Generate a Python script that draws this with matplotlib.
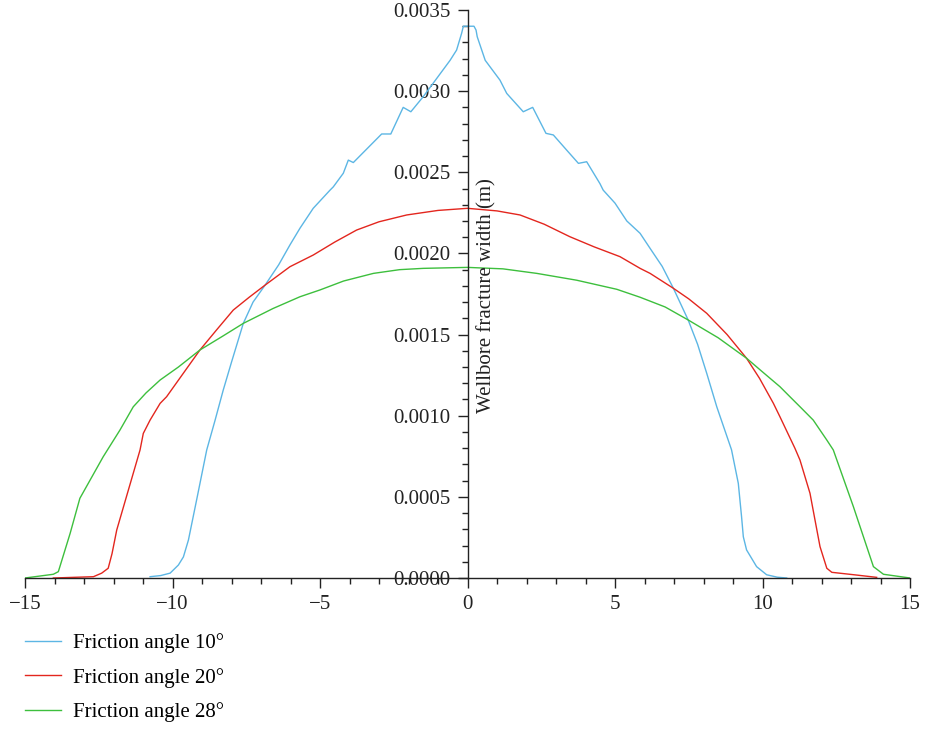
import numpy as np
import matplotlib
matplotlib.use('Agg')
import matplotlib.pyplot as plt
from matplotlib.ticker import MultipleLocator, FormatStrFormatter

plt.rcParams['font.family'] = 'serif'
plt.rcParams['font.serif'] = ['Liberation Serif', 'DejaVu Serif']

#----- curves (x in m along wellbore, width in m)
x10 = [-10.76, -10.4, -10.08, -9.8, -9.63, -9.46, -9.15, -8.84, -8.56, -8.28, -8.0, -7.6,
       -7.27, -6.86, -6.4, -6.02, -5.68, -5.23, -4.66, -4.55, -4.21, -4.04, -3.87, -2.91,
       -2.60, -2.18, -1.92, -1.5, -0.59, -0.37, -0.2, -0.14, 0.22, 0.29, 0.33, 0.6, 1.1,
       1.33, 1.89, 2.21, 2.66, 2.91, 3.36, 3.76, 4.04, 4.49, 4.6, 5.0, 5.4, 5.85, 6.19, 6.6,
       6.98, 7.48, 7.8, 8.11, 8.45, 8.95, 9.18, 9.29, 9.35, 9.46, 9.8, 10.14, 10.5, 10.82]
w10 = [0.000008, 0.000015, 0.00003, 0.00008, 0.00013, 0.000234, 0.00051, 0.000789, 0.00097,
       0.001158, 0.00133, 0.001569, 0.0017, 0.001805, 0.00193, 0.002052, 0.002155, 0.002278,
       0.00239, 0.00241, 0.002494, 0.002575, 0.00256, 0.002736, 0.002736, 0.0029, 0.002873,
       0.002966, 0.00319, 0.003253, 0.003356, 0.0034, 0.0034, 0.003376, 0.003335, 0.00319,
       0.003068, 0.002986, 0.002873, 0.0029, 0.00274, 0.00273, 0.002637, 0.002555, 0.002565,
       0.00243, 0.00239, 0.00231, 0.0022, 0.002124, 0.002031, 0.00192, 0.001785, 0.00159,
       0.00144, 0.001261, 0.001055, 0.00079, 0.000583, 0.000378, 0.000254, 0.000173, 0.00007,
       0.00002, 0.000005, 0.0]

x20 = [-14.04, -12.68, -12.4, -12.18, -12.05, -11.89, -11.1, -10.99, -10.76, -10.42, -10.2,
       -9.6, -9.07, -8.5, -7.94, -7.4, -6.86, -6.02, -5.68, -5.23, -4.5, -3.76, -3.0, -2.06,
       -1.0, 0.0, 1.0, 1.78, 2.6, 3.47, 4.3, 5.17, 5.85, 6.19, 6.98, 7.5, 8.11, 8.8, 9.46,
       9.9, 10.37, 10.59, 11.1, 11.27, 11.61, 11.78, 11.95, 12.18, 12.35, 13.1, 13.87]
w20 = [0.0, 0.000008, 0.00003, 0.00006, 0.00015, 0.000296, 0.000789, 0.000891, 0.000973,
       0.001076, 0.001117, 0.00127, 0.001405, 0.00153, 0.001651, 0.00173, 0.001805, 0.001918,
       0.001949, 0.00199, 0.00207, 0.002144, 0.002195, 0.002237, 0.002265, 0.002278, 0.002262,
       0.002237, 0.00218, 0.002103, 0.00204, 0.00198, 0.001908, 0.001877, 0.001785, 0.00172,
       0.001631, 0.0015, 0.001354, 0.00123, 0.001076, 0.000994, 0.000799, 0.000727, 0.000522,
       0.000357, 0.000193, 0.00006, 0.000035, 0.00002, 0.000004]

x28 = [-15.0, -14.04, -13.87, -13.47, -13.14, -12.35, -11.78, -11.33, -10.9, -10.42, -9.8,
       -9.07, -8.3, -7.6, -6.6, -5.68, -5.0, -4.2, -3.19, -2.3, -1.5, 0.0, 1.2, 2.35, 3.7,
       5.06, 5.85, 6.7, 7.48, 8.5, 9.46, 10.0, 10.59, 10.93, 11.3, 11.72, 12.18, 12.4, 13.08,
       13.76, 14.1, 15.0]
w28 = [0.0, 0.000023, 0.000039, 0.000275, 0.000491, 0.000747, 0.000912, 0.001055, 0.00114,
       0.00122, 0.0013, 0.001405, 0.00149, 0.001569, 0.00166, 0.001733, 0.001775, 0.00183,
       0.001877, 0.0019, 0.001908, 0.001914, 0.001905, 0.001877, 0.001835, 0.001779, 0.00173,
       0.00167, 0.00159, 0.00148, 0.001354, 0.00127, 0.001179, 0.001117, 0.00105, 0.000973,
       0.00085, 0.000789, 0.00044, 0.00007, 0.000023, 0.0]

labels = ['Friction angle 10°', 'Friction angle 20°', 'Friction angle 28°']
colors = ['#5cb6e4', '#e3261e', '#3dbf3d']

#----- plotting
fig = plt.figure(figsize=(9.25, 7.32), dpi=100)
ax = fig.add_axes([25 / 925, 1 - 578 / 732, 885 / 925, 568 / 732])

ax.plot(x10, w10, color=colors[0], lw=1.0, label=labels[0])
ax.plot(x20, w20, color=colors[1], lw=1.0, label=labels[1])
ax.plot(x28, w28, color=colors[2], lw=1.0, label=labels[2])

ax.set_xlim(-15, 15)
ax.set_ylim(0, 0.0035)

ax.spines['left'].set_position(('data', 0))
ax.spines['bottom'].set_position(('data', 0))
ax.spines['top'].set_visible(False)
ax.spines['right'].set_visible(False)
for s in ['left', 'bottom']:
    ax.spines[s].set_linewidth(1.0)
    ax.spines[s].set_color('#222222')

ax.xaxis.set_major_locator(MultipleLocator(5))
ax.xaxis.set_minor_locator(MultipleLocator(1))
ax.yaxis.set_major_locator(MultipleLocator(0.0005))
ax.yaxis.set_minor_locator(MultipleLocator(0.0001))
ax.yaxis.set_major_formatter(FormatStrFormatter('%.4f'))
ax.tick_params(which='major', length=7, width=1.0, labelsize=15, pad=5, colors='#222222')
ax.tick_params(which='minor', length=4, width=1.0, colors='#222222')

ax.text(0.66, 0.00174, 'Wellbore fracture width (m)', rotation=90, ha='center', va='center',
        fontsize=15, color='#222222')

fig.legend(loc='upper left', bbox_to_anchor=(17 / 925, 1 - 625 / 732), frameon=False,
           fontsize=15, handlelength=1.7, handletextpad=0.6, labelspacing=0.7,
           borderaxespad=0)

fig.savefig('out.png', dpi=100)
